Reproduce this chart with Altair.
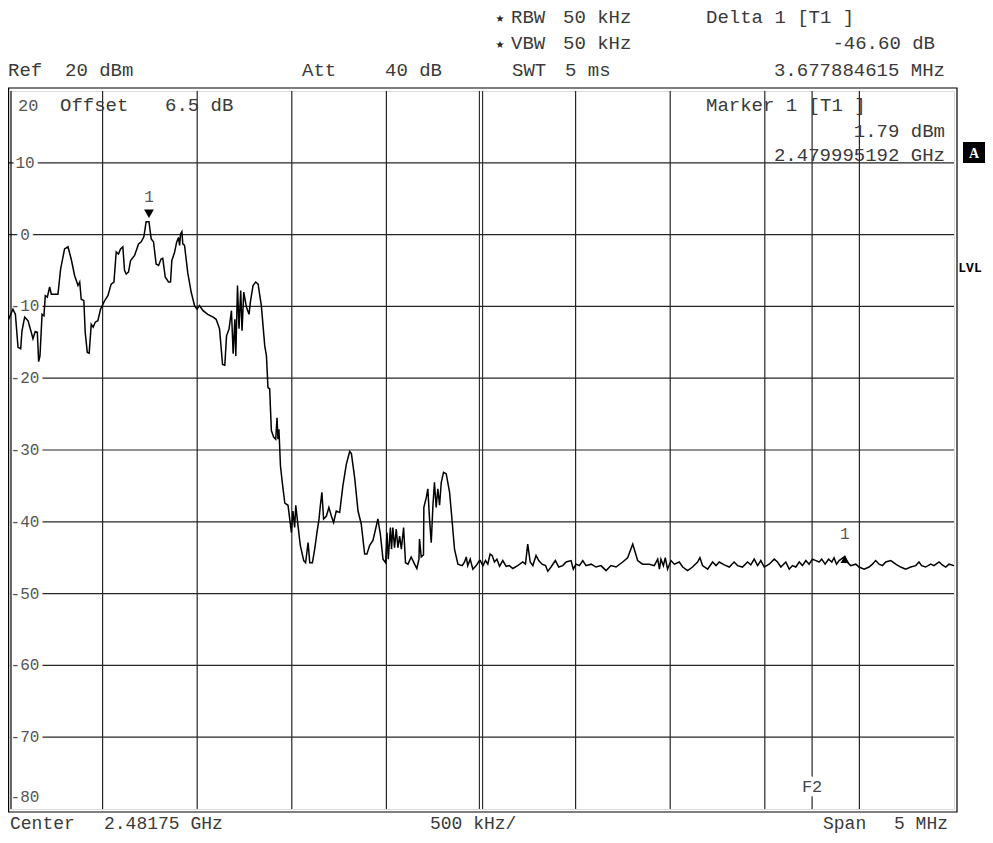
import altair as alt
import pandas as pd

# ---------------- values ----------------
CENTER_GHZ = 2.48175
SPAN_MHZ = 5.0
DIV_KHZ = 500

# trace: frequency offset from centre (MHz) and level (dBm)
passband_freq = [
    -2.500, -2.474, -2.461, -2.447, -2.433, -2.426, -2.412, -2.394, -2.377, -2.368,
    -2.356, -2.345, -2.338, -2.331, -2.320, -2.310, -2.303, -2.292, -2.280, -2.271,
    -2.236, -2.222, -2.201, -2.183, -2.166, -2.148, -2.130, -2.121, -2.113, -2.099,
    -2.092, -2.081, -2.071, -2.060, -2.050, -2.039, -2.025, -2.011, -1.989, -1.972,
    -1.955, -1.940, -1.928, -1.916, -1.905, -1.893, -1.884, -1.875, -1.863, -1.852,
    -1.831, -1.810, -1.796, -1.782, -1.770, -1.755, -1.743, -1.731, -1.717, -1.704,
    -1.691, -1.682, -1.669, -1.652, -1.641, -1.634, -1.620, -1.609, -1.599, -1.593,
    -1.588, -1.581, -1.576, -1.567, -1.550, -1.532, -1.514, -1.501, -1.488, -1.469,
    -1.444, -1.416, -1.400, -1.382, -1.366, -1.354, -1.345, -1.332, -1.319, -1.310,
    -1.301, -1.296, -1.287, -1.279, -1.270, -1.263, -1.254, -1.240, -1.226, -1.219,
    -1.205, -1.191, -1.178, -1.161, -1.143, -1.134, -1.126, -1.117, -1.108, -1.096,
    -1.085, -1.078, -1.073, -1.068, -1.060, -1.050, -1.037, -1.020, -1.002, -0.994,
    -0.985, -0.979, -0.967, -0.955, -0.937, -0.927, -0.914, -0.905, -0.891, -0.879,
    -0.867, -0.856, -0.849, -0.841, -0.832, -0.817, -0.804, -0.791, -0.779, -0.765,
    -0.747, -0.730, -0.712, -0.694, -0.685, -0.668, -0.650, -0.633, -0.615, -0.603,
    -0.589, -0.571, -0.557, -0.545, -0.532, -0.518, -0.504, -0.497, -0.490, -0.479,
    -0.473, -0.466, -0.457, -0.448, -0.439, -0.430, -0.421, -0.409, -0.399, -0.386,
    -0.369, -0.351, -0.339, -0.328, -0.325, -0.316, -0.304, -0.302, -0.289, -0.281,
    -0.272, -0.263, -0.254, -0.246, -0.237, -0.228, -0.219, -0.210, -0.198, -0.184,
    -0.166, -0.152, -0.140, -0.122, -0.099, -0.087, -0.078, -0.070, -0.057, -0.043,
    -0.025, -0.008,
]
passband_level = [
    -12.0, -10.4, -11.1, -15.7, -15.9, -13.4, -11.5, -12.0, -13.6, -14.5,
    -13.5, -13.6, -17.7, -16.9, -11.1, -11.3, -8.5, -8.7, -7.3, -8.3,
    -8.3, -4.8, -2.0, -1.7, -3.4, -5.7, -7.1, -6.6, -9.0, -9.2,
    -13.6, -16.4, -16.5, -12.5, -12.9, -12.2, -12.0, -10.4, -9.2, -8.5,
    -6.9, -6.6, -2.4, -2.7, -2.0, -1.7, -5.0, -5.5, -5.2, -3.6,
    -2.9, -1.3, -1.0, -0.3, 1.8, 1.79, -0.6, -1.0, -4.1, -4.3,
    -3.4, -3.3, -5.9, -6.6, -6.6, -3.6, -2.5, -1.1, -0.4, -1.5,
    0.1, 0.4, -1.3, -1.5, -5.3, -8.0, -9.9, -10.4, -9.9, -10.6,
    -11.1, -11.5, -11.8, -13.1, -18.1, -18.2, -14.1, -13.2, -10.6, -16.6,
    -11.8, -16.9, -7.1, -13.1, -7.8, -13.4, -8.0, -10.1, -11.1, -9.4,
    -7.1, -6.6, -6.9, -9.9, -15.5, -16.9, -21.3, -21.5, -27.3, -28.2,
    -28.5, -25.5, -28.5, -27.1, -32.2, -34.6, -37.4, -37.7, -41.5, -38.5,
    -40.8, -37.7, -40.6, -43.3, -45.4, -45.7, -42.9, -45.7, -45.7, -43.8,
    -41.5, -39.6, -37.7, -35.9, -39.6, -39.2, -38.0, -39.2, -40.1, -38.5,
    -38.7, -35.0, -32.0, -30.2, -30.5, -33.8, -38.5, -40.3, -44.5, -44.5,
    -43.3, -42.6, -41.0, -39.6, -41.7, -45.2, -45.7, -41.5, -45.2, -40.8,
    -43.8, -40.8, -43.6, -41.0, -43.6, -42.0, -43.8, -40.8, -45.7, -45.9,
    -44.9, -45.9, -46.5, -45.2, -42.4, -44.9, -44.6, -38.0, -36.6, -35.4,
    -39.6, -42.9, -37.7, -34.5, -38.0, -35.4, -37.7, -34.5, -33.1, -33.3,
    -35.9, -40.1, -43.8, -45.9, -46.1, -45.6, -44.9, -46.1, -45.2, -46.6,
    -46.1, -45.4,
]
floor1_freq = [
    -0.004, 0.010, 0.024, 0.036, 0.048, 0.059, 0.071, 0.084, 0.098, 0.115,
    0.133, 0.150, 0.168, 0.194, 0.221, 0.235, 0.247, 0.260, 0.274, 0.291,
    0.305, 0.323, 0.341, 0.353, 0.370, 0.393, 0.411, 0.432, 0.450, 0.476,
    0.488, 0.502, 0.520, 0.538, 0.555, 0.582, 0.608, 0.634, 0.661, 0.687,
    0.714, 0.749, 0.775, 0.802, 0.828, 0.854, 0.890, 0.916, 0.934, 0.943,
    0.951, 0.964, 0.974, 0.986, 1.004, 1.022, 1.048, 1.066, 1.092, 1.118,
    1.145, 1.157, 1.171, 1.198,
]
floor1_level = [
    -45.4, -46.1, -45.4, -45.9, -44.5, -44.7, -45.6, -45.2, -46.2, -45.4,
    -46.2, -46.1, -46.5, -46.1, -45.6, -45.9, -43.1, -45.6, -46.1, -44.7,
    -45.4, -45.9, -46.1, -46.9, -46.3, -45.4, -46.3, -46.1, -45.6, -45.4,
    -46.6, -45.9, -46.1, -45.4, -46.1, -45.9, -46.3, -46.1, -46.8, -46.1,
    -46.3, -45.6, -45.0, -43.1, -45.4, -45.9, -45.9, -46.1, -45.2, -46.6,
    -45.2, -46.1, -45.0, -46.6, -45.4, -45.9, -45.6, -46.3, -46.8, -46.3,
    -45.6, -45.0, -46.1, -46.6,
]
floor2_freq = [
    1.224, 1.242, 1.259, 1.286, 1.312, 1.338, 1.356, 1.382, 1.409, 1.426,
    1.444, 1.462, 1.479, 1.497, 1.523, 1.550, 1.567, 1.585, 1.611, 1.629,
    1.646, 1.664, 1.682, 1.699, 1.717, 1.734, 1.752, 1.770, 1.787, 1.801,
    1.819, 1.837, 1.854, 1.866, 1.879, 1.893, 1.923, 1.935, 1.954, 1.981,
    1.998, 2.025, 2.051, 2.069, 2.086, 2.104, 2.122, 2.139, 2.166, 2.192,
    2.218, 2.245, 2.271, 2.298, 2.315, 2.329, 2.350, 2.377, 2.394, 2.421,
    2.438, 2.456, 2.474, 2.500,
]
floor2_level = [
    -45.6, -46.1, -45.6, -46.0, -46.3, -45.6, -46.1, -46.3, -45.6, -46.0,
    -45.2, -46.1, -45.4, -46.3, -45.9, -45.2, -45.6, -46.3, -45.6, -46.6,
    -46.1, -46.3, -45.6, -46.1, -45.4, -45.9, -45.2, -45.4, -45.6, -45.2,
    -45.9, -45.2, -45.6, -45.0, -45.9, -45.4, -44.81, -45.6, -46.1, -45.9,
    -46.3, -46.6, -46.3, -45.9, -45.4, -45.9, -46.1, -45.6, -45.4, -45.9,
    -46.3, -46.6, -46.3, -46.1, -45.6, -46.1, -46.3, -45.9, -46.1, -45.6,
    -46.0, -46.3, -45.9, -46.1,
]

# markers
marker1_freq = [-1.754808]            # 2.479995192 GHz
marker1_level = [1.79]
delta1_freq = [-1.754808 + 3.677885]  # +3.677884615 MHz
delta1_level = [1.79 - 46.60]
f2_freq = [1.75]                      # 2.4835 GHz

# grid / tick labels
vgrid_freq = [-2.0, -1.5, -1.0, -0.5, 0.5, 1.0, 1.5, 2.0]
hgrid_level = [10, 0, -10, -20, -30, -40, -50, -60, -70]
ylabel_text = ["10", "0", "-10", "-20", "-30", "-40", "-50", "-60", "-70"]

# ---------------- chart ----------------
W, H = 946, 718
FONT = "Liberation Mono"
TXT = "#3a3a3a"
GRID = "#262626"

trace = pd.DataFrame({
    "f": passband_freq + floor1_freq + floor2_freq,
    "dbm": passband_level + floor1_level + floor2_level,
})

xs = alt.Scale(domain=[-SPAN_MHZ / 2, SPAN_MHZ / 2], nice=False, zero=False)
ys = alt.Scale(domain=[-80, 20], nice=False, zero=False)
X = lambda: alt.X("f:Q", scale=xs, axis=None)
Y = lambda: alt.Y("dbm:Q", scale=ys, axis=None)

one = pd.DataFrame({"k": [0]})


def txt(s, x, y, align="left", size=19, color=TXT, font=FONT, weight="normal"):
    return alt.Chart(one).mark_text(
        text=s, align=align, baseline="alphabetic", fontSize=size,
        font=font, color=color, fontWeight=weight,
    ).encode(x=alt.value(x), y=alt.value(y))


hgrid = alt.Chart(pd.DataFrame({"dbm": hgrid_level})).mark_rule(
    color=GRID, strokeWidth=1.2).encode(y=Y())
vgrid = alt.Chart(pd.DataFrame({"f": vgrid_freq})).mark_rule(
    color=GRID, strokeWidth=1.2).encode(x=X())
center_a = alt.Chart(pd.DataFrame({"f": [0.0]})).mark_rule(
    color=GRID, strokeWidth=1.1, xOffset=-1.6).encode(x=X())
center_b = alt.Chart(pd.DataFrame({"f": [0.0]})).mark_rule(
    color=GRID, strokeWidth=1.1, xOffset=1.6).encode(x=X())
f2_rule = alt.Chart(pd.DataFrame({"f": f2_freq})).mark_rule(
    color=GRID, strokeWidth=1.2).encode(x=X())

ylab_df = pd.DataFrame({"dbm": hgrid_level, "t": ylabel_text})
ylab_halo = alt.Chart(ylab_df).mark_text(
    font=FONT, fontSize=16, align="center", baseline="middle",
    fill="white", stroke="white", strokeWidth=8, strokeJoin="round",
).encode(x=alt.value(17), y=Y(), text="t:N")
ylab = alt.Chart(ylab_df).mark_text(
    font=FONT, fontSize=16, align="center", baseline="middle", color="#555555",
).encode(x=alt.value(17), y=Y(), text="t:N")
y80 = txt("-80", 17, 711, align="center", size=16, color="#555555")

f2_df = pd.DataFrame({"f": f2_freq, "dbm": [-80.0]})
f2_halo = alt.Chart(f2_df).mark_text(
    text="F2", font=FONT, fontSize=17, align="center", baseline="alphabetic",
    fill="white", stroke="white", strokeWidth=9, strokeJoin="round", dy=-17,
).encode(x=X(), y=Y())
f2_txt = alt.Chart(f2_df).mark_text(
    text="F2", font=FONT, fontSize=17, align="center", baseline="alphabetic",
    color="#444444", dy=-17,
).encode(x=X(), y=Y())

line = alt.Chart(trace).mark_line(color="black", strokeWidth=1.5).encode(
    x=X(), y=Y(), order="f:Q")

m1 = pd.DataFrame({"f": marker1_freq, "dbm": marker1_level})
d1 = pd.DataFrame({"f": delta1_freq, "dbm": delta1_level})
m1_tri = alt.Chart(m1).mark_point(shape="triangle-down", filled=True, size=95,
                                  color="black", opacity=1, yOffset=-8).encode(x=X(), y=Y())
m1_lab = alt.Chart(m1).mark_text(text="1", font=FONT, fontSize=16, align="center",
                                 baseline="alphabetic", color="#555555", dy=-20).encode(x=X(), y=Y())
d1_tri = alt.Chart(d1).mark_point(shape="triangle-up", filled=True, size=75,
                                  color="black", opacity=1, yOffset=3).encode(x=X(), y=Y())
d1_lab = alt.Chart(d1).mark_text(text="1", font=FONT, fontSize=16, align="center",
                                 baseline="alphabetic", color="#555555", dy=-17).encode(x=X(), y=Y())

outer = alt.Chart(one).mark_rect(fillOpacity=0, stroke="black", strokeWidth=1.2).encode(
    x=alt.value(0.6), x2=alt.value(W + 3), y=alt.value(-3), y2=alt.value(H + 3))
inner_left = alt.Chart(one).mark_rule(color="black", strokeWidth=1.2).encode(
    x=alt.value(3), y=alt.value(0), y2=alt.value(H))

a_box = alt.Chart(one).mark_rect(color="black").encode(
    x=alt.value(955), x2=alt.value(977), y=alt.value(51), y2=alt.value(72))

FOOT = 738
texts = [
    # header lines
    txt("\u2605", 492, -69, align="center", size=10, font="DejaVu Sans", color="#222"),
    txt("RBW", 503, -68), txt("50 kHz", 555, -68),
    txt("\u2605", 492, -43, align="center", size=10, font="DejaVu Sans", color="#222"),
    txt("VBW", 503, -42), txt("50 kHz", 555, -42),
    txt("SWT", 504, -15), txt("5 ms", 557, -15),
    txt("Delta 1 [T1 ]", 698, -68),
    txt("-46.60 dB", 927, -42, align="right"),
    txt("3.677884615 MHz", 937, -15, align="right"),
    txt("Ref", 0, -15), txt("20 dBm", 57, -15),
    txt("Att", 294, -15), txt("40 dB", 377, -15),
    # inside the graticule
    txt("20", 10, 20, size=17, color="#555555"),
    txt("Offset", 52, 20), txt("6.5 dB", 157, 20),
    txt("Marker 1 [T1 ]", 698, 20),
    txt("1.79 dBm", 937, 46, align="right"),
    txt("2.479995192 GHz", 937, 70, align="right"),
    # footer
    txt("Center", 2, FOOT, size=18), txt("2.48175 GHz", 96, FOOT, size=18),
    txt("500 kHz/", 422, FOOT, size=18),
    txt("Span", 815, FOOT, size=18), txt("5 MHz", 940, FOOT, align="right", size=18),
    # side soft-keys
    txt("A", 966, 67, align="center", size=14, color="white",
        font="Liberation Serif", weight="bold"),
    txt("LVL", 962, 181, align="center", size=13, color="black",
        font="Liberation Mono", weight="bold"),
]

chart = alt.layer(
    hgrid, vgrid, center_a, center_b, f2_rule,
    ylab_halo, f2_halo, ylab, y80, f2_txt,
    line, m1_tri, m1_lab, d1_tri, d1_lab,
    outer, inner_left, a_box, *texts,
).properties(
    width=W, height=H,
    padding={"left": 0, "top": 83, "right": 31, "bottom": 26},
    autosize=alt.AutoSizeParams(type="none"),
).configure_view(stroke="black", strokeWidth=1.2).configure(background="white")

chart.save("out.html", embed_options={"renderer": "svg", "actions": False})
